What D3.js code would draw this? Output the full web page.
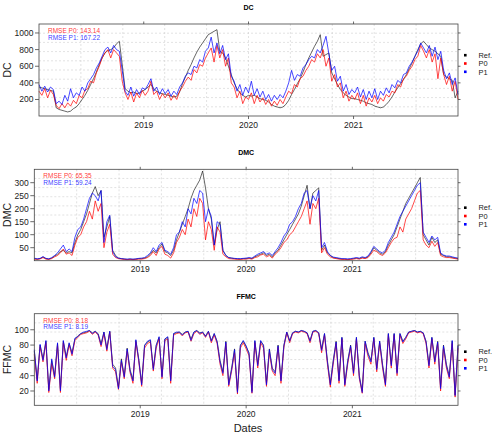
<!DOCTYPE html>
<html>
<head>
<meta charset="utf-8">
<script src="https://cdn.jsdelivr.net/npm/d3@7"></script>
<style>
  body { margin: 0; background: #fff; }
  text { font-family: "Liberation Sans", Arial, sans-serif; }
</style>
</head>
<body>
<svg id="chart" width="500" height="438"></svg>
<script>
// samples every 10 days from 2018-01-01 (one row per year)
const start_date = new Date(2018, 0, 1);
const step_days = 10;

const dc_ref = [
  350,340,330,320,310,300,100,80,70,60,50,60,90,110,150,200,250,310,380,450,530,620,700,760,790,800,820,870,900,620,330,300,280,290,270,280,300,
  320,350,380,330,300,280,270,260,250,240,230,240,290,390,470,550,620,700,770,830,880,930,980,1000,1020,1040,780,760,700,600,500,400,330,280,250,230,
  250,240,250,230,210,200,190,170,140,120,110,100,110,140,190,260,320,390,450,530,620,700,770,840,900,980,720,740,760,520,450,380,320,280,250,230,210,
  210,200,190,180,160,150,140,120,110,100,110,140,180,230,290,340,390,440,500,570,640,720,800,870,900,860,820,800,780,750,720,500,470,450,430,220,300
];
const dc_p0 = [
  300,250,330,220,310,260,130,90,150,100,160,120,190,150,250,220,310,330,420,400,520,600,700,760,800,700,800,760,720,420,280,200,290,170,280,220,310,
  250,300,420,260,300,200,270,220,280,190,250,200,300,350,420,470,430,560,520,620,600,700,760,820,650,850,700,800,600,700,400,350,220,300,150,230,
  200,280,150,250,170,220,140,200,120,180,130,200,150,230,300,270,380,350,450,480,550,600,680,650,750,700,800,600,700,420,500,350,400,220,300,180,250,
  200,280,150,250,120,220,170,250,150,220,180,260,230,300,280,380,350,450,480,550,600,680,720,850,780,700,800,650,750,450,700,500,380,480,300,420,200
];
const dc_p1 = [
  380,300,360,290,350,320,150,180,140,250,180,330,220,280,250,350,300,400,450,500,580,640,720,800,830,760,850,800,780,550,300,250,350,240,320,260,340,
  320,380,450,300,350,260,330,270,320,240,300,260,350,400,480,520,500,600,580,680,650,780,820,950,760,880,750,850,680,750,480,420,300,380,250,350,
  280,420,250,330,230,300,200,260,180,250,200,260,220,300,400,550,430,500,480,580,620,680,720,700,800,760,850,960,750,550,600,420,480,300,380,260,320,
  280,350,230,320,200,300,220,330,200,300,250,340,280,380,340,430,400,500,520,600,650,720,780,880,820,760,850,720,830,680,780,550,450,520,380,460,260
];

const dmc_ref = [
  8,6,8,14,8,6,10,18,25,35,40,30,35,30,70,100,120,150,180,220,260,285,250,270,90,130,170,40,20,10,8,6,5,6,5,6,8,
  8,10,15,25,40,30,50,65,35,30,20,40,80,110,140,170,200,240,270,290,310,345,280,200,160,60,120,150,40,20,12,10,8,7,6,8,
  8,10,8,15,20,25,30,20,25,15,30,40,60,80,100,120,140,160,180,210,250,290,200,260,270,280,40,60,30,20,12,10,8,6,6,5,6,
  8,10,8,12,10,15,30,50,40,30,25,35,60,80,100,130,160,190,220,240,260,280,300,320,100,80,60,90,70,80,25,20,15,15,12,10,8
];
const dmc_p0 = [
  6,5,7,12,6,5,8,15,20,30,45,25,30,20,60,90,100,130,150,190,160,230,190,220,50,110,140,25,12,8,6,5,4,5,4,5,6,
  6,8,12,20,35,20,45,55,25,20,10,30,70,90,120,100,160,130,200,170,240,220,80,150,120,40,130,110,25,15,8,7,6,5,5,6,
  6,8,6,12,15,22,25,15,20,10,25,35,50,70,80,100,110,130,150,170,200,230,140,220,200,240,30,50,25,15,10,8,6,5,5,4,5,
  6,8,6,10,8,12,25,40,35,25,20,30,50,70,85,90,130,110,160,180,200,230,260,270,80,60,50,75,55,70,20,15,12,12,10,8,6
];
const dmc_p1 = [
  10,7,9,16,9,7,12,20,30,45,60,35,45,35,90,120,130,160,200,240,260,250,230,270,70,150,175,35,15,10,8,7,6,7,6,7,9,
  10,12,20,30,50,35,60,70,40,35,25,50,100,110,150,130,200,180,240,220,270,260,150,200,170,60,150,140,40,20,12,10,9,8,8,9,
  10,12,10,18,25,30,35,25,30,20,35,50,70,95,110,140,150,170,200,220,260,270,200,250,230,270,50,70,35,20,14,12,10,8,8,7,8,
  10,12,10,15,12,18,35,55,45,35,30,40,70,90,110,140,170,190,210,230,250,270,290,300,110,90,70,95,80,90,30,22,18,18,15,12,10
];

const ffmc_ref = [
  72,35,80,62,85,22,60,40,82,22,85,65,82,70,88,92,95,96,97,99,96,98,95,82,97,76,98,55,50,25,62,40,76,48,35,86,62,
  30,80,84,86,50,80,90,40,88,90,35,95,96,97,94,97,98,88,97,99,96,97,92,98,86,95,85,60,45,85,30,50,75,20,80,85,
  78,70,20,85,55,85,80,30,75,50,45,80,35,80,97,86,96,98,97,99,98,96,86,98,99,96,75,95,60,30,60,85,35,90,30,60,80,
  45,90,40,20,85,70,60,90,50,85,55,30,95,55,95,45,95,85,90,97,98,99,97,98,96,85,55,90,60,85,25,80,55,40,85,15,80
];
const ffmc_p0 = [
  68,30,78,58,83,18,56,36,80,18,83,60,80,66,86,90,94,95,96,98,94,97,93,78,95,72,97,50,45,22,58,36,72,44,30,84,58,
  26,76,82,84,46,76,88,36,86,88,30,93,95,96,92,96,97,85,95,98,94,96,90,97,83,93,82,55,40,82,26,46,70,16,76,83,
  75,66,17,83,50,83,76,26,70,46,40,77,30,77,96,83,95,97,96,98,97,95,83,97,98,95,70,93,55,25,55,82,30,88,26,55,77,
  40,88,36,17,82,65,55,88,45,82,50,26,93,50,93,40,93,82,88,96,97,98,96,97,95,82,50,88,55,82,20,76,50,36,82,12,76
];
const ffmc_p1 = [
  74,33,81,60,86,20,62,38,83,20,86,63,83,68,89,91,95,97,98,99,95,98,94,80,97,74,98,52,48,23,60,38,75,46,33,87,60,
  28,79,85,87,48,79,91,38,88,91,33,95,97,97,93,97,98,86,97,99,95,97,91,98,85,95,84,58,43,84,28,48,74,18,79,86,
  79,68,18,86,53,86,79,28,74,48,43,79,33,79,97,85,96,98,97,99,98,96,85,98,99,96,73,95,58,28,58,84,33,90,28,58,79,
  43,90,38,18,85,68,58,90,48,85,53,28,95,53,95,43,95,84,90,97,98,99,97,98,96,84,53,90,58,84,23,79,53,38,86,14,79
];

const year_ticks = [2019, 2020, 2021];
const dc_ticks = [200, 400, 600, 800, 1000];
const dmc_ticks = [50, 100, 150, 200, 250, 300];
const ffmc_ticks = [20, 40, 60, 80, 100];
const series_names = ['Ref.', 'P0', 'P1'];
const rmse_dc = ['143.14', '167.22'];
const rmse_dmc = ['65.35', '59.24'];
const rmse_ffmc = ['8.18', '8.19'];

const colors = ['#000', '#ff0000', '#0000ff'];
const dates = d3.range(dc_ref.length).map(i => d3.timeDay.offset(start_date, i * step_days));

let panels = [
  {name: 'DC', series: [dc_ref, dc_p0, dc_p1], rmse: rmse_dc, ticks: dc_ticks, ydom: [1.5, 1108],
   left: 39, top: 24, bottom: 116, legend_y: 63.5},
  {name: 'DMC', series: [dmc_ref, dmc_p0, dmc_p1], rmse: rmse_dmc, ticks: dmc_ticks, ydom: [0, 351.5],
   left: 34.3, top: 169.3, bottom: 260.7, legend_y: 216},
  {name: 'FFMC', series: [ffmc_ref, ffmc_p0, ffmc_p1], rmse: rmse_ffmc, ticks: ffmc_ticks, ydom: [1.3, 121],
   left: 34.3, top: 313.7, bottom: 405.3, legend_y: 360}
];
const right = 458;

let svg = d3.select('#chart');

panels.forEach(p => {
  let sx = d3.scaleTime().domain([start_date, new Date(2021, 11, 31)]).range([p.left, right]);
  let sy = d3.scaleLinear().domain(p.ydom).range([p.bottom, p.top]);
  let g = svg.append('g');
  let w = right - p.left, h = p.bottom - p.top;

  // 10x10 dashed grid
  let grid = g.append('g').attr('stroke', '#cfcfcf').attr('stroke-width', 0.6).attr('stroke-dasharray', '2,2');
  d3.range(1, 10).forEach(k => {
    grid.append('line').attr('x1', p.left + k * w / 10).attr('x2', p.left + k * w / 10)
      .attr('y1', p.top).attr('y2', p.bottom);
    grid.append('line').attr('y1', p.top + k * h / 10).attr('y2', p.top + k * h / 10)
      .attr('x1', p.left).attr('x2', right);
  });

  let line = d3.line().x((d, i) => sx(dates[i])).y(d => sy(d));
  p.series.forEach((s, j) => {
    g.append('path').attr('d', line(s)).attr('fill', 'none')
      .attr('stroke', colors[j])
      .attr('stroke-width', j == 0 ? 0.6 : 0.95)
      .attr('stroke-linejoin', 'round')
      .attr('stroke-opacity', j == 0 ? 1 : 0.75);
  });

  g.append('rect').attr('x', p.left).attr('y', p.top).attr('width', w).attr('height', h)
    .attr('fill', 'none').attr('stroke', '#444').attr('stroke-width', 0.8);

  let yrs = year_ticks.map(y => new Date(y, 0, 1));
  let ax = g.append('g').attr('stroke', '#444').attr('stroke-width', 0.8);
  yrs.forEach(d => {
    ax.append('line').attr('x1', sx(d)).attr('x2', sx(d)).attr('y1', p.top).attr('y2', p.top - 2.5);
    ax.append('line').attr('x1', sx(d)).attr('x2', sx(d)).attr('y1', p.bottom).attr('y2', p.bottom + 3);
  });
  p.ticks.forEach(v => {
    ax.append('line').attr('x1', p.left).attr('x2', p.left - 4).attr('y1', sy(v)).attr('y2', sy(v));
    ax.append('line').attr('x1', right).attr('x2', right + 2.5).attr('y1', sy(v)).attr('y2', sy(v));
  });

  g.selectAll('.yl').data(p.ticks).join('text')
    .attr('x', p.left - 5.5).attr('y', v => sy(v) + 3).attr('text-anchor', 'end')
    .attr('font-size', 8.5).attr('fill', '#222').text(v => v);
  g.selectAll('.xl').data(yrs).join('text')
    .attr('x', d => sx(d)).attr('y', p.bottom + 11.5).attr('text-anchor', 'middle')
    .attr('font-size', 8.5).attr('fill', '#222').text(d => d.getFullYear());

  g.append('text').attr('x', (p.left + right) / 2).attr('y', p.top - 14.5)
    .attr('text-anchor', 'middle').attr('font-size', 7).attr('font-weight', 'bold').text(p.name);
  g.append('text').attr('transform', `translate(11,${(p.top + p.bottom) / 2}) rotate(-90)`)
    .attr('text-anchor', 'middle').attr('font-size', 10.5).attr('fill', '#222').text(p.name);

  p.rmse.forEach((r, j) => {
    g.append('text').attr('x', 48 - (39 - p.left)).attr('y', p.top + 9 + j * 6.5)
      .attr('font-size', 6.5).attr('fill', colors[j + 1]).attr('fill-opacity', 0.8)
      .text(`RMSE P${j}: ${r}`);
  });

  series_names.forEach((n, j) => {
    let y = p.legend_y + (j - 1) * 8.3;
    g.append('rect').attr('x', 464).attr('y', y - 1.3).attr('width', 2.6).attr('height', 2.6).attr('fill', colors[j]);
    g.append('text').attr('x', 478.5).attr('y', y + 2.7).attr('font-size', 7.4).attr('fill', '#222').text(n);
  });
});

svg.append('text').attr('x', 248).attr('y', 432).attr('text-anchor', 'middle')
  .attr('font-size', 11).attr('fill', '#222').text('Dates');
</script>
</body>
</html>
